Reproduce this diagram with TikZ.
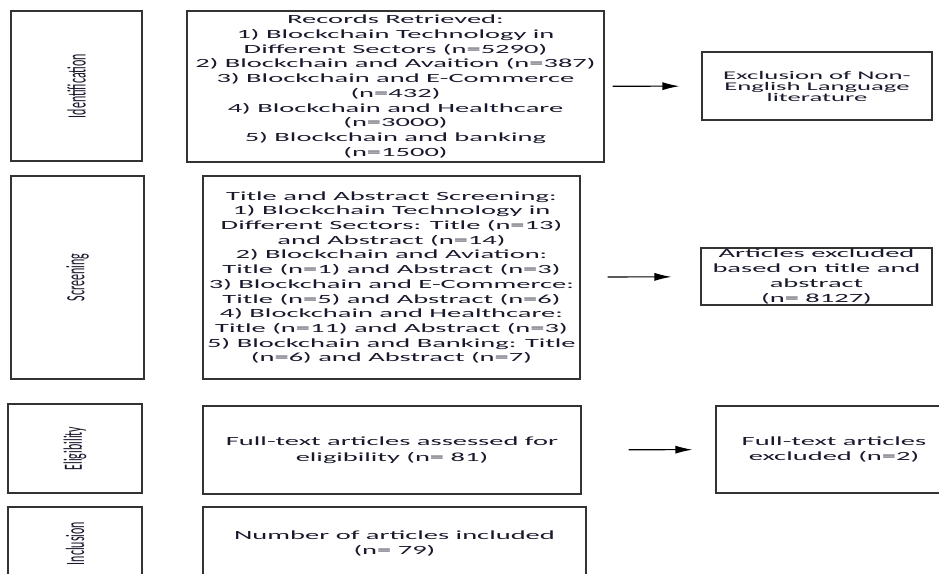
\documentclass[tikz,border=0pt]{standalone}
\usepackage{fontspec}
\setmainfont{Carlito}[FakeStretch=2.28]
\newfontfamily\etiqueta{Carlito}
\usetikzlibrary{arrows.meta}
\definecolor{texto}{RGB}{25,25,45}
\tikzstyle{etapa} = [draw=black!80, line width=1.1pt, rectangle, inner sep=1pt, text=texto]
\tikzstyle{caja} = [draw=black!80, line width=1.1pt, rectangle, inner sep=1pt, align=center, text=texto, font=\fontsize{12.5}{14.7}\selectfont]
\tikzstyle{flecha} = [-{Latex[length=17pt,width=8pt]}, line width=1.1pt]
\newcommand{\fase}[1]{\rotatebox{90}{\scalebox{1}[2.2]{\etiqueta\fontsize{12}{12}\selectfont #1}}}

\begin{document}
\begin{tikzpicture}[x=1pt, y=-1pt]
	\path[use as bounding box, clip] (0,0) rectangle (939,573);
	\node[etapa, minimum width=131pt, minimum height=150pt](ident) at (76.5,86){\fase{Identification}};
	\node[etapa, minimum width=133pt, minimum height=203pt](scrn) at (77.5,277.5){\fase{Screening}};
	\node[etapa, minimum width=134pt, minimum height=89pt](elig) at (75,448.5){\fase{Eligibility}};
	\node[etapa, minimum width=134pt, minimum height=73pt](incl) at (75,543.5){\fase{Inclusion}};

	\node[caja, minimum width=417pt, minimum height=151pt](recs) at (395.5,86.5){
		Records Retrieved:\\
		1) Blockchain Technology in\\
		Different Sectors (n=5290)\\
		2) Blockchain and Avaition (n=387)\\
		3) Blockchain and E-Commerce\\
		(n=432)\\
		4) Blockchain and Healthcare\\
		(n=3000)\\
		5) Blockchain and banking\\
		(n=1500)};
	\node[caja, minimum width=230pt, minimum height=68pt, font=\fontsize{11.7}{11}\selectfont](noeng) at (817,86){
		Exclusion of Non-\\
		English Language\\
		literature};
	\draw[flecha, shorten <=8pt, shorten >=22pt] (recs) -- (noeng);

	\node[caja, minimum width=377pt, minimum height=203pt](titab) at (391.5,277.5){
		Title and Abstract Screening:\\
		1) Blockchain Technology in\\
		Different Sectors: Title (n=13)\\
		and Abstract (n=14)\\
		2) Blockchain and Aviation:\\
		Title (n=1) and Abstract (n=3)\\
		3) Blockchain and E-Commerce:\\
		Title (n=5) and Abstract (n=6)\\
		4) Blockchain and Healthcare:\\
		Title (n=11) and Abstract (n=3)\\
		5) Blockchain and Banking: Title\\
		(n=6) and Abstract (n=7)};
	\node[caja, minimum width=231pt, minimum height=57pt](exta) at (816.5,276.5){
		Articles excluded\\
		based on title and\\
		abstract\\
		(n= 8127)};
	\draw[flecha, shorten <=27pt, shorten >=29pt] (titab) -- (exta);

	\node[caja, minimum width=378pt, minimum height=88pt, font=\fontsize{12.5}{15.5}\selectfont](full) at (392,450){
		Full-text articles assessed for\\
		eligibility (n= 81)};
	\node[caja, minimum width=236pt, minimum height=87pt, font=\fontsize{12.5}{15.5}\selectfont](exfull) at (834,449.5){
		Full-text articles\\
		excluded (n=2)};
	\draw[flecha, shorten <=47pt, shorten >=23pt] (full) -- (exfull);

	\node[caja, minimum width=383pt, minimum height=73pt, font=\fontsize{12.5}{15.5}\selectfont](final) at (394.5,543.5){
		Number of articles included\\
		(n= 79)};
\end{tikzpicture}
\end{document}
